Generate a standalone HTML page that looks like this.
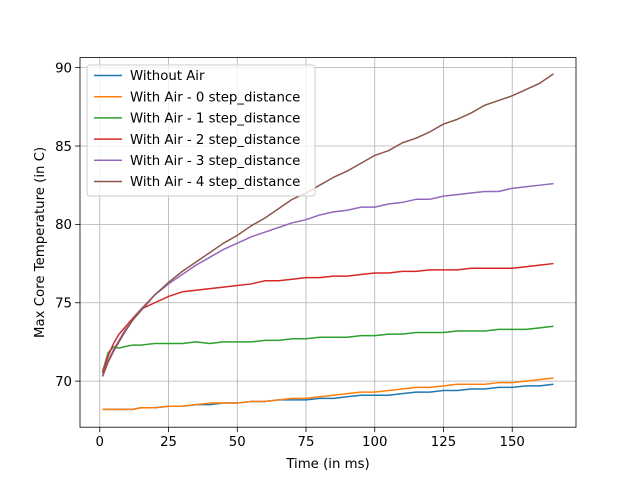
<!DOCTYPE html>
<html><head><meta charset="utf-8"><style>
body{margin:0;background:#fff}
svg{font-family:"DejaVu Sans","Liberation Sans",sans-serif}
</style></head><body>
<svg id="chart" width="640" height="480" xmlns="http://www.w3.org/2000/svg">
<rect width="640" height="480" fill="#fff"/>
<g id="grid"></g><g id="series"></g><g id="axes"></g><g id="legend"></g>
</svg>
<script>
const xs=[1,3,5,7,9,12,15,20,25,30,35,40,45,50,55,60,65,70,75,80,85,90,95,100,105,110,115,120,125,130,135,140,145,150,155,160,165];
const seriesNames=["Without Air","With Air - 0 step_distance","With Air - 1 step_distance","With Air - 2 step_distance","With Air - 3 step_distance","With Air - 4 step_distance"];
const colors=["#1f77b4","#ff7f0e","#2ca02c","#d62728","#9467bd","#8c564b"];
const blue=[68.2,68.2,68.2,68.2,68.2,68.2,68.3,68.3,68.4,68.4,68.5,68.5,68.6,68.6,68.7,68.7,68.8,68.8,68.8,68.9,68.9,69.0,69.1,69.1,69.1,69.2,69.3,69.3,69.4,69.4,69.5,69.5,69.6,69.6,69.7,69.7,69.8];
const orange=[68.2,68.2,68.2,68.2,68.2,68.2,68.3,68.3,68.4,68.4,68.5,68.6,68.6,68.6,68.7,68.7,68.8,68.9,68.9,69.0,69.1,69.2,69.3,69.3,69.4,69.5,69.6,69.6,69.7,69.8,69.8,69.8,69.9,69.9,70.0,70.1,70.2];
const green=[70.6,71.8,72.2,72.1,72.2,72.3,72.3,72.4,72.4,72.4,72.5,72.4,72.5,72.5,72.5,72.6,72.6,72.7,72.7,72.8,72.8,72.8,72.9,72.9,73.0,73.0,73.1,73.1,73.1,73.2,73.2,73.2,73.3,73.3,73.3,73.4,73.5];
const red=[70.5,71.6,72.4,73.0,73.4,74.0,74.6,75.0,75.4,75.7,75.8,75.9,76.0,76.1,76.2,76.4,76.4,76.5,76.6,76.6,76.7,76.7,76.8,76.9,76.9,77.0,77.0,77.1,77.1,77.1,77.2,77.2,77.2,77.2,77.3,77.4,77.5];
const purple=[70.3,71.3,72.0,72.6,73.2,73.9,74.6,75.5,76.2,76.8,77.4,77.9,78.4,78.8,79.2,79.5,79.8,80.1,80.3,80.6,80.8,80.9,81.1,81.1,81.3,81.4,81.6,81.6,81.8,81.9,82.0,82.1,82.1,82.3,82.4,82.5,82.6];
const brown=[70.3,71.2,71.9,72.5,73.1,73.9,74.5,75.5,76.3,77.0,77.6,78.2,78.8,79.3,79.9,80.4,81.0,81.6,82.0,82.5,83.0,83.4,83.9,84.4,84.7,85.2,85.5,85.9,86.4,86.7,87.1,87.6,87.9,88.2,88.6,89.0,89.6];
const xTicks=[0,25,50,75,100,125,150];
const yTicks=[70,75,80,85,90];
const allSeries=[blue,orange,green,red,purple,brown];
const L=80,R=576,T=57.6,B=427.2;
const xMin=-7.2,xMax=173.2,yMin=67.06,yMax=90.64;
const X=v=>L+(v-xMin)/(xMax-xMin)*(R-L);
const Y=v=>B-(v-yMin)/(yMax-yMin)*(B-T);
const NS="http://www.w3.org/2000/svg";
function mk(tag,attrs,parent){const e=document.createElementNS(NS,tag);for(const k in attrs)e.setAttribute(k,attrs[k]);parent.appendChild(e);return e;}
const grid=document.getElementById('grid'),axes=document.getElementById('axes'),ser=document.getElementById('series'),leg=document.getElementById('legend');
xTicks.forEach(t=>{const x=X(t);
 let g=mk('line',{x1:x,x2:x,y1:T,y2:B,stroke:'#b0b0b0','stroke-width':0.8},grid);
 
 
 mk('line',{x1:x,x2:x,y1:B,y2:B+4.9,stroke:'#000','stroke-width':0.8},axes);
 let tx=mk('text',{x:x,y:B+19,'text-anchor':'middle','font-size':'13.3'},axes);tx.textContent=t;
 
 
});
yTicks.forEach(t=>{const y=Y(t);
 let g=mk('line',{x1:L,x2:R,y1:y,y2:y,stroke:'#b0b0b0','stroke-width':0.8},grid);
 
 
 mk('line',{x1:L-4.9,x2:L,y1:y,y2:y,stroke:'#000','stroke-width':0.8},axes);
 let tx=mk('text',{x:L-8,y:y+4.8,'text-anchor':'end','font-size':'13.3'},axes);tx.textContent=t;
 
 
});
allSeries.forEach((s,i)=>{
 const p=mk('polyline',{points:s.map((v,j)=>X(xs[j])+','+Y(v)).join(' '),fill:'none',stroke:colors[i],'stroke-width':1.5,'stroke-linejoin':'round'},ser);
 
 
});
const frame=mk('rect',{x:L,y:T,width:R-L,height:B-T,fill:'none',stroke:'#000','stroke-width':0.8},axes);


const xt=mk('text',{x:(L+R)/2,y:468,'text-anchor':'middle','font-size':'13.3'},axes);xt.textContent='Time (in ms)';


const yt=mk('text',{x:0,y:0,'text-anchor':'middle','font-size':'13.3',transform:'translate(44,'+((T+B)/2)+') rotate(-90)'},axes);yt.textContent='Max Core Temperature (in C)';


const box=mk('rect',{x:87,y:65,width:228,height:131,rx:3,fill:'#fff','fill-opacity':0.8,stroke:'#cccccc','stroke-width':1},leg);


seriesNames.forEach((n,i)=>{const y=75.5+i*21.2;
 const ln=mk('line',{x1:94,x2:122,y1:y,y2:y,stroke:colors[i],'stroke-width':1.5},leg);
 
 
 const tx=mk('text',{x:130,y:y+4.7,'font-size':'13.3'},leg);tx.textContent=n;
 
 
});
</script>
</body></html>
